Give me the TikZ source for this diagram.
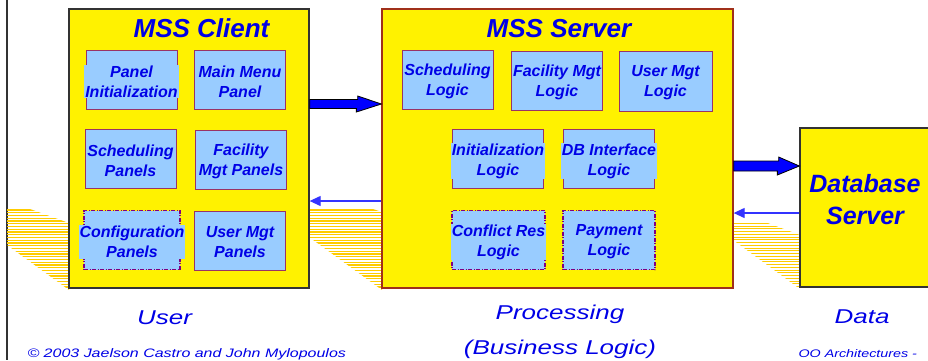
\documentclass[tikz,border=0pt]{standalone}
\usepackage{fontspec}
\setmainfont{Liberation Sans}
\newfontfamily\widefont[FakeStretch=1.3]{Liberation Sans}
\usepackage{xcolor}
\usepackage{tikz}
\usetikzlibrary{arrows.meta}
\definecolor{boxblue}{HTML}{99CCFF}
\definecolor{txtblue}{HTML}{0000E6}
\definecolor{edgepurple}{HTML}{993366}
\definecolor{dashpurple}{HTML}{800080}
\definecolor{shadowgold}{HTML}{FFCC00}
\definecolor{serveredge}{HTML}{A0301A}
\definecolor{darkedge}{HTML}{333333}
\definecolor{arrowblue}{HTML}{3333FF}
\def\boxw{91}
\def\boxh{59}

\begin{document}
\begin{tikzpicture}[x=1pt, y=-1pt,
	tier/.style={draw=darkedge, line width=1.3pt, fill=yellow, inner sep=0pt},
	part/.style={draw=edgepurple, line width=0.8pt, fill=boxblue, minimum width=\boxw, minimum height=\boxh, inner sep=0pt},
	planned/.style={part, draw=dashpurple, line width=1.4pt, dash pattern=on 4pt off 1.5pt on 1pt off 1.5pt},
	partlabel/.style={fill=boxblue, inner sep=1pt, align=center, text=txtblue, yshift=-2pt, font=\fontsize{16}{20}\selectfont\bfseries\itshape},
	title/.style={anchor=base, text=txtblue, font=\fontsize{26}{30}\selectfont\bfseries\itshape},
	dbtext/.style={align=center, text=txtblue, yshift=8pt, font=\fontsize{25}{32}\selectfont\bfseries\itshape},
	layer/.style={anchor=base, text=txtblue, font=\widefont\fontsize{20}{24}\selectfont\itshape},
	footer/.style={anchor=base west, text=txtblue, font=\widefont\fontsize{12.3}{14}\selectfont\itshape},
	shadowline/.style={draw=shadowgold, line width=1.1pt},
	fatarrow/.style={draw=black, line width=0.8pt, fill=blue, line join=miter},
	backarrow/.style={draw=arrowblue, line width=1.2pt, -{Triangle[length=11pt, width=10pt]}}]
	\useasboundingbox (0,0) rectangle (928,360);
	%\draw[step=10, black!20] (0,0) grid (928,360);
	\draw[darkedge, line width=1.2pt] (7,0) -- (7,360);

	\begin{scope}
		\clip (7,209) -- (30,209) -- (69,223) -- (69,290) -- (7,245) -- cycle;
		\foreach \y in {210,212.75,...,290} \draw[shadowline] (0,\y) -- (100,\y);
	\end{scope}
	\begin{scope}
		\clip (309,209) -- (373,209) -- (382,212) -- (382,290) -- (309,237) -- cycle;
		\foreach \y in {210,212.75,...,290} \draw[shadowline] (300,\y) -- (400,\y);
	\end{scope}
	\begin{scope}
		\clip (733,222) -- (765,222) -- (800,235) -- (800,289) -- (733,240) -- cycle;
		\foreach \y in {223.3,226.05,...,290} \draw[shadowline] (720,\y) -- (810,\y);
	\end{scope}

	\node[tier, minimum width=240, minimum height=279] (client) at (189,148.5) {};
	\node[title] (ctitle) at (201.5,37) {MSS Client};
	\node[part, label={[partlabel]center:{Panel\\Initialization}}] (pinit) at (131.5,79.5) {};
	\node[part, label={[partlabel]center:{Main Menu\\Panel}}] (pmenu) at (240,79.5) {};
	\node[part, label={[partlabel]center:{Scheduling\\Panels}}] (psched) at (130.5,159) {};
	\node[part, label={[partlabel]center:{Facility\\Mgt Panels}}] (pfac) at (241,159.5) {};
	\node[planned, minimum width=96, label={[partlabel]center:{Configuration\\Panels}}] (pconf) at (132,240) {};
	\node[part, label={[partlabel]center:{User Mgt\\Panels}}] (puser) at (240,240.5) {};

	\node[tier, draw=serveredge, minimum width=351, minimum height=279] (server) at (557.5,148.5) {};
	\node[title] (stitle) at (559,37) {MSS Server};
	\node[part, label={[partlabel]center:{Scheduling\\Logic}}] (lsched) at (447.5,79.5) {};
	\node[part, label={[partlabel]center:{Facility Mgt\\Logic}}] (lfac) at (557,80.5) {};
	\node[part, minimum width=93, minimum height=60, label={[partlabel]center:{User Mgt\\Logic}}] (luser) at (665.5,81) {};
	\node[part, label={[partlabel]center:{Initialization\\Logic}}] (linit) at (498,159) {};
	\node[part, label={[partlabel]center:{DB Interface\\Logic}}] (ldb) at (609,159) {};
	\node[planned, minimum width=93, label={[partlabel]center:{Conflict Res\\Logic}}] (lconf) at (498.5,240) {};
	\node[planned, minimum width=92, label={[partlabel]center:{Payment\\Logic}}] (lpay) at (609,240) {};

	\node[tier, minimum width=130, minimum height=159, label={[dbtext]center:{Database\\Server}}] (dbase) at (865,207.5) {};

	\draw[fatarrow] (client.east |- 0,99.5) -- ++(48,0) -- ++(0,-3.5) -- (server.west |- 0,104)
		-- ++(-25,8) -- ++(0,-3.5) -- (client.east |- 0,108.5) -- cycle;
	\draw[fatarrow] (server.east |- 0,161) -- ++(45,0) -- ++(0,-4) -- (dbase.west |- 0,166)
		-- ++(-22,9) -- ++(0,-4) -- (server.east |- 0,171) -- cycle;
	\draw[backarrow] (server.west |- 0,201) -- (client.east |- 0,201);
	\draw[backarrow] (dbase.west |- 0,213) -- (server.east |- 0,213);

	\node[layer] (user) at (164.5,324) {User};
	\node[layer] (proc) at (560,319) {Processing};
	\node[layer] (busi) at (560,354) {(Business Logic)};
	\node[layer] (data) at (862,323) {Data};
	\node[footer] (copy) at (24,357) {© 2003 Jaelson Castro and John Mylopoulos};
	\node[footer, font=\widefont\fontsize{11}{13}\selectfont\itshape] (topic) at (795,357) {OO Architectures -};
\end{tikzpicture}
\end{document}
